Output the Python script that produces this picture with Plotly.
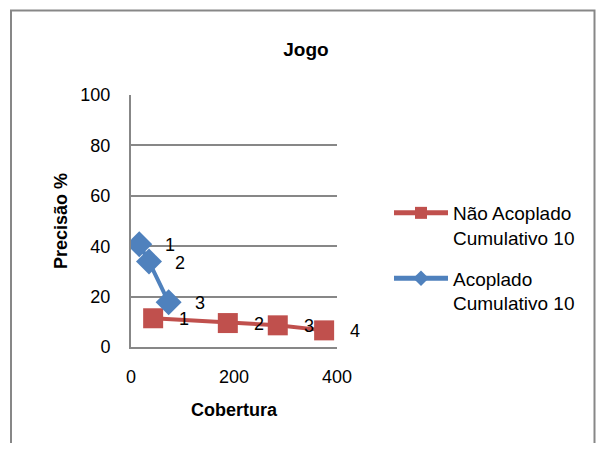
import plotly.graph_objects as go

# Data
nao_x = [43, 188, 285, 375]
nao_y = [11.4, 9.5, 8.6, 6.6]
nao_labels = ["1", "2", "3", "4"]
aco_x = [16, 35, 73]
aco_y = [40.8, 33.9, 17.8]
aco_labels = ["1", "2", "3"]
series_names = ["Não Acoplado<br>Cumulativo 10", "Acoplado<br>Cumulativo 10"]
x_ticks = [0, 200, 400]
y_ticks = [0, 20, 40, 60, 80, 100]

RED = "#C0504D"
BLUE = "#4F81BD"
GRAY = "#878787"
FONT = "Liberation Sans"

# page offset of the plot div (body margin)
OFF = 8
W, H = 604 - 2 * OFF, 451 - 2 * OFF
L, T = 131 - OFF, 95 - OFF
pw, ph = 206, 252
R, B = W - L - pw, H - T - ph

def px2paper_x(px):
    return (px - OFF - L) / pw

def px2paper_y(py):
    return (T + ph - (py - OFF)) / ph

fig = go.Figure()
fig.add_trace(go.Scatter(
    x=nao_x, y=nao_y, mode="lines+markers", name=series_names[0], legendgroup="g1",
    line=dict(color=RED, width=4),
    marker=dict(symbol="square", size=20, color=RED),
))
fig.add_trace(go.Scatter(
    x=aco_x, y=aco_y, mode="lines+markers", name=series_names[1], legendgroup="g2",
    line=dict(color=BLUE, width=4),
    marker=dict(symbol="diamond", size=20, color=BLUE),
))

for xs, ys, labs in [(aco_x, aco_y, aco_labels), (nao_x, nao_y, nao_labels)]:
    for x, y, t in zip(xs, ys, labs):
        fig.add_annotation(x=x, y=y, text=t, showarrow=False, xshift=31, yshift=-1,
                           font=dict(family=FONT, size=18, color="#000"))

fig.add_shape(type="rect", xref="paper", yref="paper",
              x0=px2paper_x(11), x1=px2paper_x(594.5), y0=px2paper_y(470), y1=px2paper_y(10.5),
              line=dict(color=GRAY, width=2), layer="below")

fig.update_layout(
    width=W, height=H,
    margin=dict(l=L, r=R, t=T, b=B),
    paper_bgcolor="white", plot_bgcolor="white",
    font=dict(family=FONT, size=18, color="#000"),
    title=dict(text="<b>Jogo</b>", x=(306 - OFF) / W, xanchor="center", xref="container",
               y=1 - (49 - OFF) / H, yanchor="middle", yref="container",
               font=dict(family=FONT, size=19, color="#000")),
    showlegend=True,
    legend=dict(x=px2paper_x(389), y=px2paper_y(194), xanchor="left", yanchor="top",
                font=dict(family=FONT, size=19, color="#000"),
                itemsizing="constant", valign="top", tracegroupgap=13,
                itemwidth=54, bgcolor="rgba(0,0,0,0)"),
    xaxis=dict(range=[0, 400], tickvals=x_ticks, showgrid=False, zeroline=False,
               showline=True, linecolor=GRAY, linewidth=2, ticks="",
               ticklabelstandoff=12,
               title=dict(text="<b>Cobertura</b>", standoff=18,
                          font=dict(family=FONT, size=18, color="#000"))),
    yaxis=dict(range=[0, 100], tickvals=y_ticks, showgrid=True, gridcolor=GRAY, gridwidth=2,
               zeroline=False, showline=True, linecolor=GRAY, linewidth=2, ticks="",
               ticklabelstandoff=15,
               title=dict(text="<b>Precisão %</b>", standoff=8,
                          font=dict(family=FONT, size=18, color="#000"))),
)

fig.write_html("out.html")
